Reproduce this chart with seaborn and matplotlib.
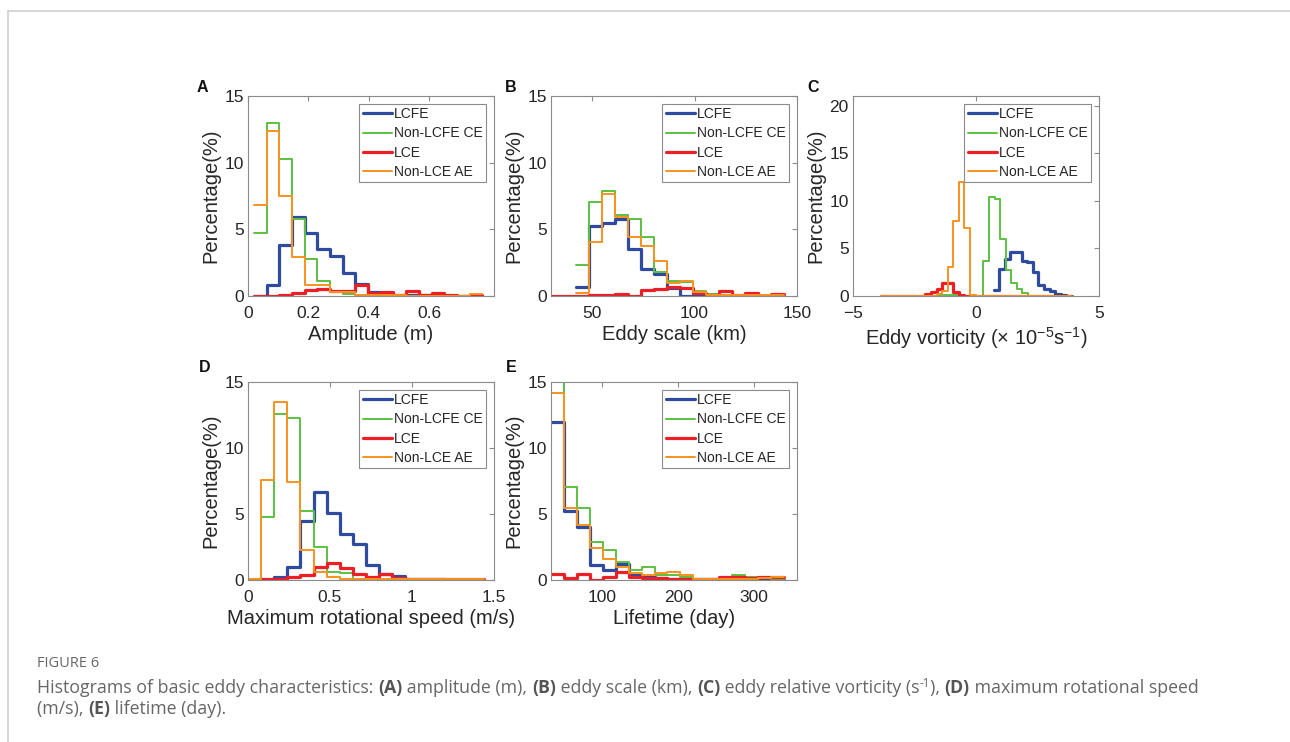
import numpy as np
import matplotlib
matplotlib.use("Agg")
import matplotlib.pyplot as plt
import seaborn as sns
from matplotlib.lines import Line2D

# ---------------- data (percentages per bin) ----------------
SERIES = ["LCFE", "Non-LCFE CE", "LCE", "Non-LCE AE"]

# Panel A: amplitude (m)
A_WIDTH = 0.042
A_START = [0.02, 0.02, 0.02, 0.02]
A_LCFE = [0.0, 0.85, 3.85, 5.95, 4.75, 3.55, 3.0, 1.7, 0.9, 0.3, 0.25, 0.1, 0.05, 0.05, 0.05, 0.03, 0.03, 0.0]
A_NONLCFE = [4.7, 13.0, 10.3, 5.8, 2.8, 1.1, 0.3, 0.15, 0.05, 0.05, 0.05, 0.03, 0.02, 0.02, 0.01, 0.01, 0.01, 0.05]
A_LCE = [0.0, 0.02, 0.05, 0.2, 0.45, 0.5, 0.4, 0.35, 0.85, 0.25, 0.3, 0.05, 0.4, 0.05, 0.25, 0.05, 0.03, 0.05]
A_NONLCE = [6.85, 12.4, 7.5, 2.9, 0.85, 0.85, 0.3, 0.3, 0.05, 0.05, 0.05, 0.05, 0.03, 0.03, 0.03, 0.03, 0.03, 0.15]

# Panel B: eddy scale (km)
B_WIDTH = 6.35
B_START = [42.2, 42.2, 29.5, 42.2]
B_LCFE = [0.7, 5.25, 5.5, 5.75, 3.5, 2.0, 1.65, 0.6, 0.0, 0.15, 0.05, 0.02, 0.02, 0.02, 0.02, 0.0]
B_NONLCFE = [2.35, 7.05, 7.9, 6.1, 5.75, 4.4, 1.8, 1.1, 1.05, 0.35, 0.15, 0.1, 0.1, 0.05, 0.0, 0.0]
B_LCE = [0.0, 0.0, 0.02, 0.1, 0.05, 0.18, 0.03, 0.45, 0.5, 0.68, 0.58, 0.25, 0.08, 0.35, 0.1, 0.23, 0.0, 0.15]
B_NONLCE = [0.25, 4.05, 7.65, 5.9, 4.4, 3.75, 2.65, 0.95, 1.1, 0.3, 0.1, 0.1, 0.05, 0.05, 0.05, 0.1]

# Panel C: eddy vorticity (x1e-5 s^-1)
C_WIDTH = 0.227
C_START = [0.72, -1.743, -3.874, -3.874]
C_LCFE = [0.64, 2.8, 3.9, 4.65, 4.65, 3.65, 3.6, 2.5, 1.2, 0.7, 0.5, 0.25, 0.1, 0.05]
C_NONLCFE = [0.05, 0.1, 0.15, 0.15, 0.1, 0.05, 0.0, 0.0, 0.0, 3.64, 10.35, 10.2, 6.0, 2.75,
             1.35, 0.75, 0.28, 0.05, 0.02, 0.0, 0.0, 0.0, 0.0, 0.0, 0.0]
C_LCE = [0.0, 0.0, 0.0, 0.0, 0.0, 0.0, 0.0, 0.0, 0.25, 0.4, 0.7, 1.4, 1.4, 0.4, 0.1, 0.05, 0.05,
         0.02, 0.02, 0.02, 0.02, 0.02, 0.02, 0.02, 0.02, 0.02, 0.02, 0.02, 0.02, 0.02, 0.02, 0.02, 0.02, 0.02]
C_NONLCE = [0.0, 0.0, 0.0, 0.0, 0.0, 0.0, 0.0, 0.0, 0.0, 0.05, 0.2, 0.5, 3.0, 7.9, 12.0, 7.1, 0.1,
            0.02, 0.02, 0.02, 0.02, 0.02, 0.02, 0.02, 0.02, 0.02, 0.02, 0.02, 0.02, 0.02, 0.02, 0.02, 0.02, 0.02]

# Panel D: maximum rotational speed (m/s)
D_WIDTH = 0.08
D_START = [0.0, 0.0, 0.0, 0.0]
D_LCFE = [0.0, 0.0, 0.25, 1.0, 4.5, 6.65, 5.05, 3.5, 2.7, 1.1, 0.45, 0.3, 0.1, 0.05, 0.05, 0.02, 0.02, 0.02]
D_NONLCFE = [0.0, 4.75, 12.6, 12.25, 5.2, 2.5, 0.6, 0.55, 0.1, 0.05, 0.05, 0.05, 0.02, 0.02, 0.02, 0.02, 0.0, 0.0]
D_LCE = [0.0, 0.05, 0.05, 0.25, 0.35, 0.95, 1.3, 0.9, 0.45, 0.2, 0.45, 0.15, 0.1, 0.05, 0.05, 0.05, 0.05, 0.05]
D_NONLCE = [0.05, 7.6, 13.5, 7.4, 2.3, 0.6, 0.25, 0.1, 0.1, 0.05, 0.05, 0.05, 0.05, 0.05, 0.05, 0.05, 0.05, 0.05]

# Panel E: lifetime (day)
E_WIDTH = 17.1
E_START = [32.0, 32.0, 32.0, 32.0]
E_LCFE = [12.0, 5.25, 4.0, 1.1, 0.75, 1.25, 0.35, 0.25, 0.12, 0.1, 0.1, 0.05, 0.05, 0.05, 0.05, 0.05, 0.05, 0.0]
E_NONLCFE = [16.5, 7.05, 5.45, 2.85, 2.3, 1.35, 0.75, 0.95, 0.4, 0.4, 0.25, 0.1, 0.1, 0.15, 0.35, 0.2, 0.25, 0.1]
E_LCE = [0.45, 0.15, 0.45, 0.0, 0.25, 0.6, 0.2, 0.12, 0.12, 0.1, 0.1, 0.05, 0.05, 0.2, 0.2, 0.12, 0.2, 0.25]
E_NONLCE = [14.2, 5.45, 4.15, 2.45, 1.6, 0.95, 0.5, 0.4, 0.5, 0.62, 0.4, 0.1, 0.05, 0.05, 0.1, 0.1, 0.15, 0.25]

# ---------------- style ----------------
W, H = 1290, 742
COLORS = ["#2e4b9f", "#5dbf41", "#ec1f26", "#f7931e"]
LWS = [2.3, 1.4, 2.3, 1.4]
SPINE = "#8a8a8a"
TXT = "#262626"

sns.set_style("white")
plt.rcParams["font.family"] = ["Liberation Sans", "DejaVu Sans"]
plt.rcParams["mathtext.fontset"] = "custom"
plt.rcParams["mathtext.rm"] = "Liberation Sans"
plt.rcParams["mathtext.it"] = "Liberation Sans:italic"

fig = plt.figure(figsize=(W / 100, H / 100), dpi=100)


def add_axes_px(left, right, top, bottom):
    return fig.add_axes([left / W, 1 - bottom / H, (right - left) / W, (bottom - top) / H])


def draw_panel(ax, start, width, series, xlim, ylim, xticks, yticks, xlabel, ticklabels=None):
    for i, vals in enumerate(series):
        vals = np.asarray(vals, dtype=float)
        edges = start[i] + width * np.arange(len(vals) + 1)
        centers = 0.5 * (edges[:-1] + edges[1:])
        sns.histplot(x=centers, weights=vals, bins=[float(e) for e in edges], element="step",
                     fill=False, color=COLORS[i], linewidth=LWS[i], ax=ax)
    ax.set_xlim(*xlim)
    ax.set_ylim(*ylim)
    ax.set_xticks(xticks)
    if ticklabels is not None:
        ax.set_xticklabels(ticklabels)
    ax.set_yticks(yticks)
    ax.set_xlabel(xlabel, fontsize=14.5, color=TXT, labelpad=3)
    ax.set_ylabel("Percentage(%)", fontsize=14.5, color=TXT, labelpad=3)
    for s in ax.spines.values():
        s.set_color(SPINE)
        s.set_linewidth(0.8)
        s.set_visible(True)
    ax.tick_params(direction="in", top=True, right=True, length=3.5, width=0.8,
                   color=SPINE, labelsize=12.5, labelcolor=TXT)
    ax.tick_params(axis="x", pad=7)
    ax.tick_params(axis="y", pad=3)
    handles = [Line2D([], [], color=COLORS[i], lw=LWS[i]) for i in range(4)]
    leg = ax.legend(handles, SERIES, loc="upper right", fontsize=10, frameon=True,
                    fancybox=False, framealpha=1, edgecolor=SPINE, borderpad=0.25,
                    labelspacing=0.38, handlelength=2.1, handletextpad=0.15,
                    borderaxespad=0.55)
    leg.get_frame().set_linewidth(0.8)
    for t in leg.get_texts():
        t.set_color(TXT)


axA = add_axes_px(248, 494, 96, 296)
draw_panel(axA, A_START, A_WIDTH, [A_LCFE, A_NONLCFE, A_LCE, A_NONLCE],
           (0, 0.815), (0, 15), [0, 0.2, 0.4, 0.6], [0, 5, 10, 15], "Amplitude (m)",
           ["0", "0.2", "0.4", "0.6"])

axB = add_axes_px(551, 797, 96, 296)
draw_panel(axB, B_START, B_WIDTH, [B_LCFE, B_NONLCFE, B_LCE, B_NONLCE],
           (30, 150), (0, 15), [50, 100, 150], [0, 5, 10, 15], "Eddy scale (km)")

axC = add_axes_px(853, 1099, 96, 296)
draw_panel(axC, C_START, C_WIDTH, [C_LCFE, C_NONLCFE, C_LCE, C_NONLCE],
           (-5, 5), (0, 21), [-5, 0, 5], [0, 5, 10, 15, 20],
           "Eddy vorticity (× 10$^{-5}$s$^{-1}$)")

axD = add_axes_px(248, 494, 382, 580)
draw_panel(axD, D_START, D_WIDTH, [D_LCFE, D_NONLCFE, D_LCE, D_NONLCE],
           (0, 1.5), (0, 15), [0, 0.5, 1, 1.5], [0, 5, 10, 15],
           "Maximum rotational speed (m/s)", ["0", "0.5", "1", "1.5"])

axE = add_axes_px(551, 797, 382, 580)
draw_panel(axE, E_START, E_WIDTH, [E_LCFE, E_NONLCFE, E_LCE, E_NONLCE],
           (32, 357), (0, 15), [100, 200, 300], [0, 5, 10, 15], "Lifetime (day)")

# panel letters
for letter, (px, py) in zip("ABCDE", [(197, 87), (505, 87), (807, 87), (199, 367), (506, 367)]):
    fig.text(px / W, 1 - py / H, letter, fontsize=11.5, fontweight="bold",
             color="#111111", ha="left", va="center")

# page frame lines
fig.add_artist(Line2D([7.5 / W, 1], [1 - 10.5 / H, 1 - 10.5 / H], color="#cfcfcf", lw=1.2))
fig.add_artist(Line2D([7.5 / W, 7.5 / W], [0, 1 - 10.5 / H], color="#cfcfcf", lw=1.2))

# caption
CAP_FONT = ["Open Sans", "DejaVu Sans"]
CAP_COLOR = "#666666"
CAP_BOLD = "#555555"
renderer = fig.canvas.get_renderer()


def text_width(s, size, weight):
    t1 = fig.text(0, 0, "|" + s + "|", fontsize=size, fontweight=weight, family=CAP_FONT)
    t2 = fig.text(0, 0, "||", fontsize=size, fontweight=weight, family=CAP_FONT)
    w = t1.get_window_extent(renderer).width - t2.get_window_extent(renderer).width
    t1.remove()
    t2.remove()
    return w


def rich_line(x_px, y_px, parts, size):
    x = x_px
    for s, weight, rise, scale in parts:
        sz = size * scale
        fig.text(x / W, 1 - (y_px - rise) / H, s, fontsize=sz, fontweight=weight,
                 family=CAP_FONT, color=CAP_BOLD if weight == "bold" else CAP_COLOR,
                 ha="left", va="baseline")
        x += text_width(s, sz, weight)


N, B = "normal", "bold"
fig.text(37 / W, 1 - 667 / H, "FIGURE 6", fontsize=10.5, family=CAP_FONT,
         color=CAP_COLOR, ha="left", va="baseline")
CAP_SIZE = 12.8
rich_line(37, 693, [
    ("Histograms of basic eddy characteristics: ", N, 0, 1),
    ("(A)", B, 0, 1), (" amplitude (m), ", N, 0, 1),
    ("(B)", B, 0, 1), (" eddy scale (km), ", N, 0, 1),
    ("(C)", B, 0, 1), (" eddy relative vorticity (s", N, 0, 1),
    ("-1", N, 6, 0.65), ("), ", N, 0, 1),
    ("(D)", B, 0, 1), (" maximum rotational speed", N, 0, 1),
], CAP_SIZE)
rich_line(37, 714, [
    ("(m/s), ", N, 0, 1), ("(E)", B, 0, 1), (" lifetime (day).", N, 0, 1),
], CAP_SIZE)

fig.savefig("out.png", dpi=100)
